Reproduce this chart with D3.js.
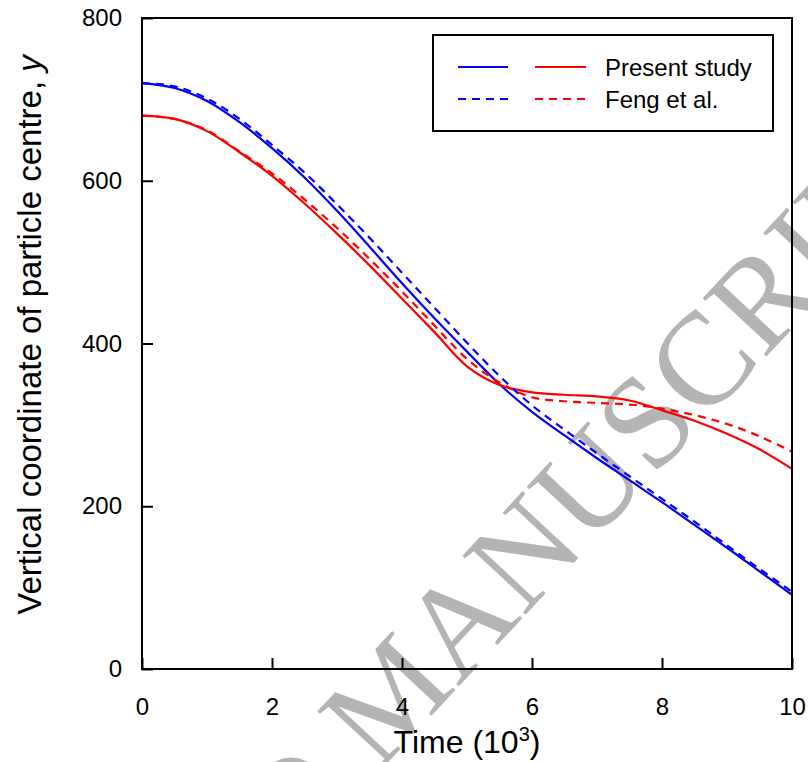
<!DOCTYPE html>
<html>
<head>
<meta charset="utf-8">
<script src="https://cdn.jsdelivr.net/npm/d3@7"></script>
<style>
  body { margin: 0; background: #fff; }
  svg { display: block; font-family: "Liberation Sans", Arial, sans-serif; }
</style>
</head>
<body>
<script>
// time in units of 10^3
const times = [0, 0.5, 1, 1.5, 2, 2.5, 3, 3.5, 4, 4.5, 5, 5.5, 6, 6.5, 7, 7.5, 8, 8.5, 9, 9.5, 10];

// vertical coordinate of particle centre
const upperPresent = [720, 714, 698, 672, 640, 604, 563, 519, 474, 431, 390, 350, 316, 287, 259, 232, 205, 177, 149, 120, 91];
const upperFeng    = [720, 716, 701, 676, 644, 610, 571, 530, 487, 444, 401, 360, 324, 294, 265, 237, 209, 181, 152, 123, 95];
const lowerPresent = [680, 676, 661, 635, 606, 572, 535, 496, 455, 414, 372, 349, 340, 337, 335, 330, 318, 305, 289, 270, 246];
const lowerFeng    = [680, 676, 662, 636, 609, 577, 542, 504, 464, 422, 381, 352, 334, 329, 327, 325, 320, 312, 301, 286, 267];

const xTicks = [0, 2, 4, 6, 8, 10];
const yTicks = [0, 200, 400, 600, 800];

const width = 808, height = 762;

const x = d3.scaleLinear().domain([0, 10]).range([142, 792]);
const y = d3.scaleLinear().domain([0, 800]).range([669, 18]);

const svg = d3.select("body").append("svg")
  .attr("width", width)
  .attr("height", height);

// watermark, behind everything
const wm = svg.append("g")
  .attr("transform", "translate(378,773) rotate(-47)")
  .attr("fill", "#b4b4b4")
  .style("font-family", "'Liberation Serif', 'Times New Roman', serif")
  .style("font-size", "132px");
wm.append("text").attr("x", -33).attr("text-anchor", "end").text("ACCEPTED");
wm.append("text").attr("x", 0).text("MANUSCRIPT");

const series = [
  { values: upperPresent, color: "#0000ff", dash: null },
  { values: lowerPresent, color: "#ff0000", dash: null },
  { values: upperFeng, color: "#0000ff", dash: "8,6" },
  { values: lowerFeng, color: "#ff0000", dash: "8,6" }
];

const line = d3.line()
  .x(d => x(d[0]))
  .y(d => y(d[1]))
  .curve(d3.curveCatmullRom.alpha(0.5));

svg.append("g")
  .attr("fill", "none")
  .selectAll("path")
  .data(series)
  .join("path")
  .attr("stroke", d => d.color)
  .attr("stroke-width", 2.2)
  .attr("stroke-dasharray", d => d.dash)
  .attr("d", d => line(times.map((t, i) => [t, d.values[i]])));

// axes with inward ticks
const xAxis = svg.append("g")
  .attr("transform", "translate(0,669)")
  .call(d3.axisBottom(x).tickValues(xTicks).tickSize(-11).tickPadding(29).tickFormat(d3.format("d")));
const yAxis = svg.append("g")
  .attr("transform", "translate(142,0)")
  .call(d3.axisLeft(y).tickValues(yTicks).tickSize(-11).tickPadding(20).tickFormat(d3.format("d")));

[xAxis, yAxis].forEach(a => {
  a.select(".domain").remove();
  a.selectAll(".tick line").attr("stroke", "#000").attr("stroke-width", 2);
  a.selectAll(".tick text").attr("fill", "#000").style("font-size", "24px")
    .style("font-family", "'Liberation Sans', Arial, sans-serif");
});

// frame
svg.append("rect")
  .attr("x", x(0)).attr("y", y(800))
  .attr("width", x(10) - x(0)).attr("height", y(0) - y(800))
  .attr("fill", "none").attr("stroke", "#000").attr("stroke-width", 2);

// axis titles
const xt = svg.append("text")
  .attr("x", 467).attr("y", 753)
  .attr("text-anchor", "middle")
  .style("font-size", "32px");
xt.append("tspan").text("Time (10");
xt.append("tspan").attr("dy", -12).style("font-size", "20px").text("3");
xt.append("tspan").attr("dy", 12).text(")");

const yt = svg.append("text")
  .attr("transform", "translate(41,335) rotate(-90)")
  .attr("text-anchor", "middle")
  .style("font-size", "33px");
yt.append("tspan").text("Vertical coordinate of particle centre, ");
yt.append("tspan").style("font-style", "italic").text("y");

// legend
const legend = svg.append("g");
legend.append("rect")
  .attr("x", 433).attr("y", 35).attr("width", 340).attr("height", 96)
  .attr("fill", "#fff").attr("stroke", "#000").attr("stroke-width", 2);

const legendRows = [
  { label: "Present study", dash: null, y: 67 },
  { label: "Feng et al.", dash: "8,6", y: 99 }
];
legendRows.forEach(r => {
  legend.append("line").attr("x1", 458).attr("x2", 508).attr("y1", r.y).attr("y2", r.y)
    .attr("stroke", "#0000ff").attr("stroke-width", 2.2).attr("stroke-dasharray", r.dash);
  legend.append("line").attr("x1", 535).attr("x2", 586).attr("y1", r.y).attr("y2", r.y)
    .attr("stroke", "#ff0000").attr("stroke-width", 2.2).attr("stroke-dasharray", r.dash);
  legend.append("text").attr("x", 605).attr("y", r.y + 8.5)
    .style("font-size", "24px").text(r.label);
});
</script>
</body>
</html>
